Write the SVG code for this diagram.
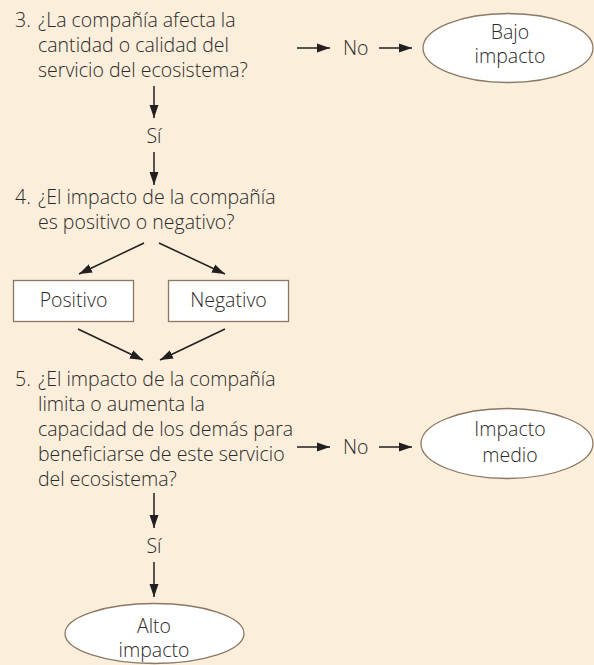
<svg xmlns="http://www.w3.org/2000/svg" width="594" height="665" viewBox="0 0 594 665">
<defs>
<style>
.t{font-family:"Open Sans","Noto Sans","Liberation Sans",sans-serif;font-size:19.5px;font-weight:300;fill:#2b2929}
.c{text-anchor:middle}
.sh{fill:#ffffff;stroke:#8a7862;stroke-width:1.3}
.ln{fill:none;stroke:#231f20;stroke-width:1.5;marker-end:url(#ah)}
</style>
<marker id="ah" markerUnits="userSpaceOnUse" markerWidth="14" markerHeight="10" refX="13" refY="5" orient="auto">
<path d="M0,0.5 L13,5 L0,9.5 z" fill="#231f20"/>
</marker>
</defs>
<rect width="594" height="665" fill="#fbeedb"/>
<g id="q3">
<text class="t" x="15" y="27">3.<tspan x="38">¿La compañía afecta la</tspan></text>
<text class="t" x="38" y="52">cantidad o calidad del</text>
<text class="t" x="38" y="77">servicio del ecosistema?</text>
</g>
<g id="bajo">
<ellipse class="sh" cx="508" cy="48" rx="85" ry="34.5"/>
<text class="t c" x="510" y="39">Bajo</text>
<text class="t c" x="510" y="63">impacto</text>
</g>
<g id="q4">
<text class="t" x="15" y="204">4.<tspan x="38">¿El impacto de la compañía</tspan></text>
<text class="t" x="38" y="229">es positivo o negativo?</text>
</g>
<g id="positivo">
<rect class="sh" x="13.5" y="280.5" width="120" height="41"/>
<text class="t c" x="73.5" y="307">Positivo</text>
</g>
<g id="negativo">
<rect class="sh" x="168.5" y="280.5" width="120" height="41"/>
<text class="t c" x="228.5" y="307">Negativo</text>
</g>
<g id="q5">
<text class="t" x="15" y="386">5.<tspan x="38">¿El impacto de la compañía</tspan></text>
<text class="t" x="38" y="411">limita o aumenta la</text>
<text class="t" x="38" y="436">capacidad de los demás para</text>
<text class="t" x="38" y="461">beneficiarse de este servicio</text>
<text class="t" x="38" y="486">del ecosistema?</text>
</g>
<g id="medio">
<ellipse class="sh" cx="507" cy="443.5" rx="86" ry="35"/>
<text class="t c" x="510" y="436">Impacto</text>
<text class="t c" x="510" y="462">medio</text>
</g>
<g id="alto">
<ellipse class="sh" cx="154.5" cy="633.5" rx="89.5" ry="30"/>
<text class="t c" x="154" y="633">Alto</text>
<text class="t c" x="154" y="657">impacto</text>
</g>
<g id="connectors">
<path class="ln" d="M297,48 H330"/>
<text class="t" x="343" y="55">No</text>
<path class="ln" d="M379,48 H412"/>
<path class="ln" d="M154,86 V118"/>
<text class="t c" x="154" y="143">Sí</text>
<path class="ln" d="M154,152 V185"/>
<path class="ln" d="M144,243 L79,274"/>
<path class="ln" d="M159,243 L225,274"/>
<path class="ln" d="M78,329 L143,360"/>
<path class="ln" d="M225,329 L160,360"/>
<path class="ln" d="M297,447 H330"/>
<text class="t" x="343" y="454">No</text>
<path class="ln" d="M379,447 H412"/>
<path class="ln" d="M154,493 V528"/>
<text class="t c" x="154" y="553">Sí</text>
<path class="ln" d="M154,562 V597"/>
</g>
</svg>
